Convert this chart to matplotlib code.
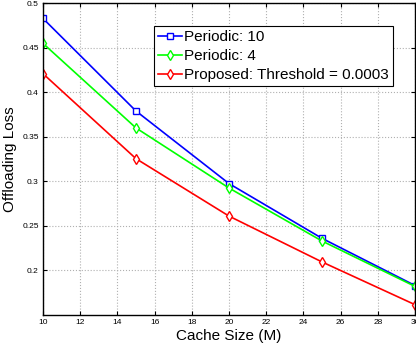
import matplotlib
matplotlib.use('Agg')
import matplotlib.pyplot as plt

plt.rcParams['font.family'] = ['Liberation Sans', 'DejaVu Sans']

cache = [10, 15, 20, 25, 30]
periodic10 = [0.483, 0.379, 0.2975, 0.236, 0.183]
periodic4 = [0.455, 0.360, 0.2925, 0.233, 0.182]
proposed = [0.421, 0.3255, 0.261, 0.2095, 0.1615]
labels = ['Periodic: 10', 'Periodic: 4', 'Proposed: Threshold = 0.0003']

fig = plt.figure(figsize=(4.16, 3.5), dpi=100)
ax = fig.add_axes([0.103, 0.1, 0.895, 0.891])

ax.plot(cache, periodic10, color='#0000ff', lw=1.2, marker='s', ms=4.5,
        mfc='white', mec='#0000ff', mew=1.0, label=labels[0])
ax.plot(cache, periodic4, color='#00ff00', lw=1.2, marker='d', ms=5,
        mfc='white', mec='#00ff00', mew=1.0, label=labels[1])
ax.plot(cache, proposed, color='#ff0000', lw=1.2, marker='d', ms=5,
        mfc='white', mec='#ff0000', mew=1.0, label=labels[2])

ax.set_xlim(10, 30)
ax.set_ylim(0.15, 0.5)
ax.set_xticks(range(10, 31, 2))
ax.set_yticks([0.2, 0.25, 0.3, 0.35, 0.4, 0.45, 0.5])
ax.set_yticklabels(['0.2', '0.25', '0.3', '0.35', '0.4', '0.45', '0.5'])
ax.tick_params(direction='in', labelsize=6, top=True, right=True, length=3, pad=3)
ax.grid(True, linestyle=':', color='#b0b0b0', lw=0.8)
for s in ax.spines.values():
    s.set_linewidth(1.0)

ax.set_xlabel('Cache Size (M)', fontsize=11, labelpad=2)
ax.set_ylabel('Offloading Loss', fontsize=11, labelpad=4)

leg = ax.legend(loc='upper right', bbox_to_anchor=(0.94, 0.926), fontsize=11,
                fancybox=False, framealpha=1, edgecolor='black',
                handlelength=1.6, borderpad=0.25, labelspacing=0.33,
                handletextpad=0.15, borderaxespad=0)
leg.get_frame().set_linewidth(0.8)

fig.savefig('out.png', dpi=100)
